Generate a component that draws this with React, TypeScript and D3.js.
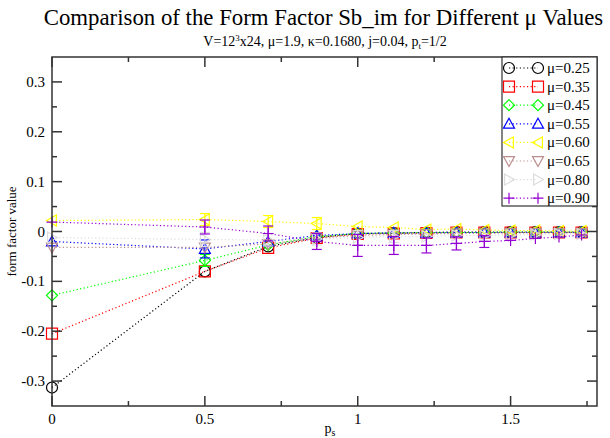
import React from 'react';
import * as d3 from 'd3';

// momentum values p_s
const momenta = [0, 0.5, 0.7071, 0.866, 1, 1.118, 1.2247, 1.3229, 1.4142, 1.5, 1.5811, 1.6583, 1.7321];

const muLabels = ['μ=0.25', 'μ=0.35', 'μ=0.45', 'μ=0.55', 'μ=0.60', 'μ=0.65', 'μ=0.80', 'μ=0.90'];

const mu025 = [-0.313, -0.080, -0.030, -0.012, -0.004, -0.003, -0.002, -0.001, -0.001, -0.001, -0.001, -0.001, -0.001];
const mu035 = [-0.205, -0.080, -0.033, -0.013, -0.005, -0.004, -0.003, -0.002, -0.002, -0.002, -0.002, -0.002, -0.002];
const mu045 = [-0.128, -0.058, -0.027, -0.010, -0.004, -0.003, -0.002, -0.002, -0.002, -0.001, -0.001, -0.001, -0.001];
const mu055 = [-0.020, -0.035, -0.020, -0.008, -0.004, -0.003, -0.003, -0.002, -0.002, -0.002, -0.002, -0.002, -0.002];
const mu060 = [0.022, 0.024, 0.020, 0.016, 0.010, 0.008, 0.004, 0.005, 0.003, 0.002, 0.002, 0.001, 0.001];
const mu065 = [-0.032, -0.032, -0.025, -0.013, -0.008, -0.006, -0.005, -0.004, -0.004, -0.003, -0.003, -0.003, -0.003];
const mu080 = [-0.012, -0.016, -0.017, -0.015, -0.012, -0.010, -0.010, -0.008, -0.008, -0.007, -0.006, -0.005, -0.005];
const mu090 = [0.019, 0.009, -0.004, -0.020, -0.028, -0.028, -0.028, -0.024, -0.020, -0.018, -0.014, -0.011, -0.007];

const err025 = [0.002, 0.004, 0.004, 0.003, 0.003, 0.003, 0.002, 0.002, 0.002, 0.002, 0.002, 0.002, 0.002];
const err035 = [0.003, 0.005, 0.004, 0.003, 0.003, 0.003, 0.002, 0.002, 0.002, 0.002, 0.002, 0.002, 0.002];
const err045 = [0.004, 0.012, 0.005, 0.004, 0.003, 0.003, 0.003, 0.003, 0.002, 0.002, 0.002, 0.002, 0.002];
const err055 = [0.008, 0.018, 0.008, 0.006, 0.004, 0.004, 0.004, 0.003, 0.003, 0.003, 0.003, 0.003, 0.003];
const err060 = [0.010, 0.012, 0.012, 0.012, 0.008, 0.007, 0.006, 0.006, 0.005, 0.005, 0.005, 0.004, 0.004];
const err065 = [0.006, 0.010, 0.008, 0.006, 0.005, 0.005, 0.004, 0.004, 0.004, 0.004, 0.003, 0.003, 0.003];
const err080 = [0.008, 0.014, 0.012, 0.012, 0.014, 0.012, 0.010, 0.009, 0.008, 0.008, 0.007, 0.006, 0.006];
const err090 = [0.005, 0.014, 0.015, 0.016, 0.022, 0.018, 0.015, 0.013, 0.012, 0.010, 0.009, 0.008, 0.007];

const yTicks = [-0.3, -0.2, -0.1, 0, 0.1, 0.2, 0.3];
const yTickLabels = ['-0.3', '-0.2', '-0.1', '0', '0.1', '0.2', '0.3'];
const xTicks = [0, 0.5, 1, 1.5];
const xTickLabels = ['0', '0.5', '1', '1.5'];

const colors = ['#000000', '#ff0000', '#00ff00', '#0000ff', '#ffff00', '#bc8f8f', '#dcdcdc', '#9400d3'];
const shapes = ['circle', 'square', 'diamond', 'up', 'left', 'down', 'right', 'plus'];

const seriesValues = [mu025, mu035, mu045, mu055, mu060, mu065, mu080, mu090];
const seriesErrors = [err025, err035, err045, err055, err060, err065, err080, err090];

const W = 610;
const H = 438;
const margin = { left: 52, right: 13, top: 57, bottom: 32 };
const serif = 'Liberation Serif';
const R = 5.5;

function markerPath(kind: string, r: number): string {
  const p = d3.path();
  switch (kind) {
    case 'circle':
      p.arc(0, 0, r, 0, Math.PI * 2);
      break;
    case 'square':
      p.rect(-r, -r, 2 * r, 2 * r);
      break;
    case 'diamond':
      p.moveTo(0, -r); p.lineTo(r, 0); p.lineTo(0, r); p.lineTo(-r, 0); p.closePath();
      break;
    case 'up':
      p.moveTo(0, -r); p.lineTo(r, r * 0.8); p.lineTo(-r, r * 0.8); p.closePath();
      break;
    case 'down':
      p.moveTo(0, r); p.lineTo(r, -r * 0.8); p.lineTo(-r, -r * 0.8); p.closePath();
      break;
    case 'left':
      p.moveTo(-r, 0); p.lineTo(r * 0.8, -r); p.lineTo(r * 0.8, r); p.closePath();
      break;
    case 'right':
      p.moveTo(r, 0); p.lineTo(-r * 0.8, -r); p.lineTo(-r * 0.8, r); p.closePath();
      break;
    case 'plus':
      p.moveTo(-r, 0); p.lineTo(r, 0); p.moveTo(0, -r); p.lineTo(0, r);
      break;
  }
  return p.toString();
}

export default function App() {
  const x = d3.scaleLinear().domain([0, 1.7826]).range([margin.left, W - margin.right]);
  const y = d3.scaleLinear().domain([-0.35, 0.35]).range([H - margin.bottom, margin.top]);
  const [x0, x1] = x.range();
  const [y0, y1] = y.range();

  const line = d3.line<number>().x((_, i) => x(momenta[i])).y((d) => y(d));

  const xMinor = d3.range(0, 1.76, 0.25);
  const yMinor = d3.range(-0.35, 0.351, 0.05).map((v) => Math.round(v * 100) / 100);

  const legendX = 502;
  const legendY = margin.top;
  const rowH = 18.6;

  return (
    <svg width={W} height={H} style={{ position: 'absolute', left: 0, top: 0, background: '#fff' }}>
      <text x={323.5} y={25} textAnchor="middle" fontFamily={serif} fontSize={22.8} fill="#000">
        Comparison of the Form Factor Sb_im for Different μ Values
      </text>
      <text x={325} y={46} textAnchor="middle" fontFamily={serif} fontSize={14} fill="#000">
        V=12<tspan dy={-5} fontSize={9}>3</tspan><tspan dy={5}>x24, μ=1.9, κ=0.1680, j=0.04, p</tspan>
        <tspan dy={3} fontSize={9}>t</tspan><tspan dy={-3}>=1/2</tspan>
      </text>

      {/* series lines */}
      {seriesValues.map((vals, s) => (
        <path key={'l' + s} d={line(vals) || ''} fill="none" stroke={colors[s]}
          strokeWidth={1.2} strokeDasharray="1.2,2.4" />
      ))}

      {/* error bars + markers */}
      {seriesValues.map((vals, s) => (
        <g key={'m' + s} stroke={colors[s]} fill="none" strokeWidth={1.2}>
          {vals.map((v, i) => {
            const cx = x(momenta[i]);
            const e = seriesErrors[s][i];
            const ya = y(v + e);
            const yb = y(v - e);
            const showBar = yb - ya > 2 * R;
            return (
              <g key={i}>
                {showBar && (
                  <>
                    <line x1={cx} x2={cx} y1={ya} y2={yb} />
                    <line x1={cx - 5} x2={cx + 5} y1={ya} y2={ya} />
                    <line x1={cx - 5} x2={cx + 5} y1={yb} y2={yb} />
                  </>
                )}
                <path d={markerPath(shapes[s], R)} transform={`translate(${cx},${y(v)})`} />
              </g>
            );
          })}
        </g>
      ))}

      {/* frame */}
      <rect x={x0} y={y1} width={x1 - x0} height={y0 - y1} fill="none" stroke="#333" strokeWidth={1.5} />

      {/* x ticks */}
      {xMinor.map((t) => {
        const major = Math.abs(t * 2 - Math.round(t * 2)) < 1e-6;
        const len = major ? 10 : 5;
        return (
          <g key={'xt' + t} stroke="#333" strokeWidth={1.5}>
            <line x1={x(t)} x2={x(t)} y1={y0} y2={y0 - len} />
            <line x1={x(t)} x2={x(t)} y1={y1} y2={y1 + len} />
          </g>
        );
      })}
      {xTicks.map((t, i) => (
        <text key={'xl' + t} x={x(t)} y={y0 + 18} textAnchor="middle" fontFamily={serif} fontSize={15} fill="#000">
          {xTickLabels[i]}
        </text>
      ))}

      {/* y ticks */}
      {yMinor.map((t) => {
        const major = Math.abs(t * 10 - Math.round(t * 10)) < 1e-6;
        const len = major ? 10 : 5;
        if (t <= -0.35 || t >= 0.35) return null;
        return (
          <g key={'yt' + t} stroke="#333" strokeWidth={1.5}>
            <line x1={x0} x2={x0 + len} y1={y(t)} y2={y(t)} />
            <line x1={x1} x2={x1 - len} y1={y(t)} y2={y(t)} />
          </g>
        );
      })}
      {yTicks.map((t, i) => (
        <text key={'yl' + t} x={x0 - 7} y={y(t) + 5} textAnchor="end" fontFamily={serif} fontSize={15} fill="#000">
          {yTickLabels[i]}
        </text>
      ))}

      {/* axis labels */}
      <text transform={`translate(16,${(y0 + y1) / 2}) rotate(-90)`} textAnchor="middle" fontFamily={serif} fontSize={13} fill="#000">
        form factor value
      </text>
      <text x={330} y={433} textAnchor="middle" fontFamily={serif} fontSize={14} fill="#000">
        p<tspan dy={3} fontSize={10}>s</tspan>
      </text>

      {/* legend */}
      <rect x={legendX} y={legendY} width={x1 - legendX} height={149} fill="#fff" stroke="#333" strokeWidth={1.2} />
      {muLabels.map((lab, s) => {
        const ly = legendY + 11 + s * rowH;
        return (
          <g key={'lg' + s}>
            <line x1={509} x2={538} y1={ly} y2={ly} stroke={colors[s]} strokeWidth={1.2} strokeDasharray="1.2,2.4" />
            <path d={markerPath(shapes[s], R)} transform={`translate(509,${ly})`} fill="none" stroke={colors[s]} strokeWidth={1.2} />
            <path d={markerPath(shapes[s], R)} transform={`translate(538,${ly})`} fill="none" stroke={colors[s]} strokeWidth={1.2} />
            <text x={547} y={ly + 5} fontFamily={serif} fontSize={15} fill="#000">{lab}</text>
          </g>
        );
      })}
    </svg>
  );
}
